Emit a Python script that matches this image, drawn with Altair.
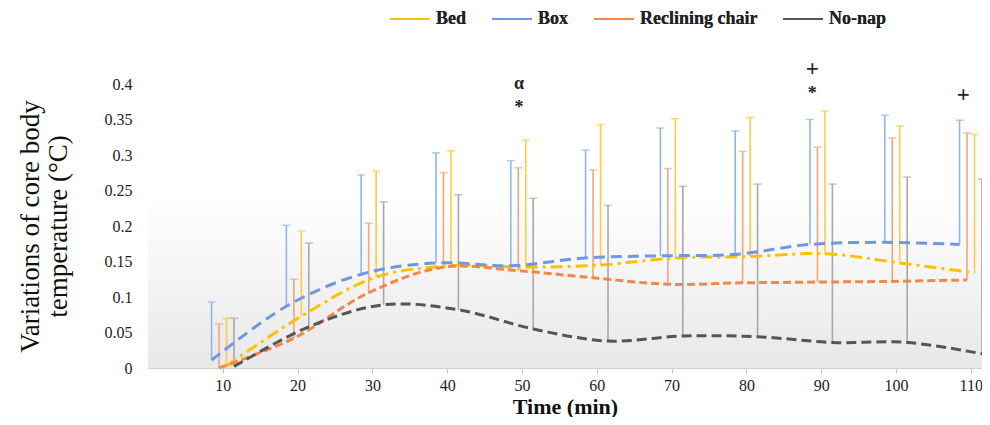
import altair as alt
import pandas as pd

# ---- data ----
times = [10, 20, 30, 40, 50, 60, 70, 80, 90, 100, 110]
series_order = ["Bed", "Box", "Reclining chair", "No-nap"]

bed_mean   = [0.003, 0.073, 0.128, 0.144, 0.142, 0.145, 0.155, 0.157, 0.161, 0.148, 0.134]
box_mean   = [0.011, 0.087, 0.132, 0.148, 0.144, 0.155, 0.158, 0.160, 0.174, 0.177, 0.174]
recl_mean  = [0.000, 0.042, 0.106, 0.142, 0.137, 0.127, 0.118, 0.120, 0.121, 0.122, 0.124]
nonap_mean = [0.002, 0.058, 0.089, 0.082, 0.055, 0.038, 0.045, 0.044, 0.036, 0.036, 0.020]

bed_upper   = [0.070, 0.193, 0.277, 0.306, 0.321, 0.343, 0.351, 0.353, 0.362, 0.341, 0.329]
box_upper   = [0.093, 0.201, 0.272, 0.303, 0.292, 0.307, 0.338, 0.334, 0.350, 0.356, 0.349]
recl_upper  = [0.062, 0.125, 0.204, 0.275, 0.282, 0.279, 0.281, 0.305, 0.311, 0.324, 0.331]
nonap_upper = [0.070, 0.176, 0.234, 0.244, 0.239, 0.229, 0.256, 0.259, 0.259, 0.269, 0.266]

annot_text = ["α", "*", "+", "*", "+"]
annot_time = [49.6, 49.6, 88.8, 88.8, 109.0]
annot_y    = [0.400, 0.366, 0.421, 0.386, 0.384]

y_ticks = [0, 0.05, 0.1, 0.15, 0.2, 0.25, 0.3, 0.35, 0.4]

# ---- styling ----
offsets = {"Box": -1.5, "Reclining chair": -0.5, "Bed": 0.5, "No-nap": 1.5}
line_colors = ["#FFC000", "#6E97E4", "#F0884A", "#555555"]
err_colors = ["#FFCB45", "#8DB6EA", "#F3A67D", "#A8A8A8"]
dashes = [[12, 5, 3, 5], [11, 6], [8, 4], [10, 5]]
SERIF = "Liberation Serif"
W, H = 834, 284

means = {"Bed": bed_mean, "Box": box_mean, "Reclining chair": recl_mean, "No-nap": nonap_mean}
uppers = {"Bed": bed_upper, "Box": box_upper, "Reclining chair": recl_upper, "No-nap": nonap_upper}

rows = []
for s in series_order:
    for t, m, u in zip(times, means[s], uppers[s]):
        rows.append({"series": s, "time": t, "xpos": t + offsets[s], "mean": m, "upper": u})
df = pd.DataFrame(rows)
ann = pd.DataFrame({"txt": annot_text, "xpos": annot_time, "mean": annot_y})

xscale = alt.Scale(domain=[0, 111.5], nice=False, zero=False)
yscale = alt.Scale(domain=[0, 0.4], nice=False, zero=False)

xaxis = alt.Axis(values=times, title="Time (min)", grid=False, labelFont=SERIF,
                 labelFontSize=16, labelColor="#222", domainColor="#d0d0d0",
                 tickColor="#c0c0c0", tickSize=5, labelPadding=4, titleFont=SERIF,
                 titleFontSize=22, titleFontWeight="bold", titleColor="#111", titlePadding=3,
                 labelOverlap=False)
yaxis = alt.Axis(values=y_ticks, format="~g", title=["Variations of core body", "temperature  (°C)"],
                 grid=False, ticks=False, labelFont=SERIF, labelFontSize=16, labelColor="#222",
                 domainColor="#d0d0d0", labelPadding=16, titleFont=SERIF, titleFontSize=27,
                 titleFontWeight="normal", titleColor="#111", titlePadding=32, titleLineHeight=28,
                 labelOverlap=False)

X = alt.X("xpos:Q", scale=xscale, axis=xaxis)
Y = alt.Y("mean:Q", scale=yscale, axis=yaxis)

legend = alt.Legend(title=None, orient="none", legendX=241, legendY=-86, direction="horizontal",
                    columns=4, symbolType="stroke", symbolSize=1600, symbolStrokeWidth=2,
                    labelFont=SERIF, labelFontSize=18, labelFontWeight="bold", labelColor="#222",
                    columnPadding=21, labelOffset=5, labelLimit=0)

gradient = alt.Gradient(gradient="linear", x1=0, x2=0, y1=0, y2=1,
                        stops=[alt.GradientStop(color="#ffffff", offset=0),
                               alt.GradientStop(color="#ffffff", offset=0.4),
                               alt.GradientStop(color="#e8e8e8", offset=1)])

bg = alt.Chart(pd.DataFrame({"a": [0]})).mark_rect(fill=gradient).encode(
    x=alt.value(0), x2=alt.value(W), y=alt.value(0), y2=alt.value(H))

err_color = alt.Color("series:N", scale=alt.Scale(domain=series_order, range=err_colors), legend=None)

base = alt.Chart(df)
errs = base.mark_rule(strokeWidth=1.6).encode(x=X, y=Y, y2="upper:Q", color=err_color)
caps = base.mark_tick(orient="horizontal", size=8, thickness=1.5).encode(
    x=X, y=alt.Y("upper:Q", scale=yscale, axis=yaxis), color=err_color)
lines = base.mark_line(interpolate="catmull-rom", strokeWidth=3).encode(
    x=X, y=Y,
    color=alt.Color("series:N", scale=alt.Scale(domain=series_order, range=line_colors), legend=legend),
    strokeDash=alt.StrokeDash("series:N", scale=alt.Scale(domain=series_order, range=dashes), legend=legend),
    order="xpos:Q",
)
abase = alt.Chart(ann)
texts = abase.transform_filter(alt.datum.txt != "+").mark_text(
    font=SERIF, fontSize=18, fontWeight="bold", color="#222").encode(x=X, y=Y, text="txt:N")
plus = abase.transform_filter(alt.datum.txt == "+").mark_text(
    font=SERIF, fontSize=23, fontWeight="bold", color="#222").encode(x=X, y=Y, text="txt:N")

chart = alt.layer(bg, errs, caps, lines, texts, plus).resolve_scale(color="independent").properties(
    width=W, height=H, autosize="none",
    padding={"left": 140, "top": 76, "right": 0, "bottom": 49},
).configure_view(stroke=None)

chart.save("out.html", embed_options={"renderer": "svg", "actions": False})
